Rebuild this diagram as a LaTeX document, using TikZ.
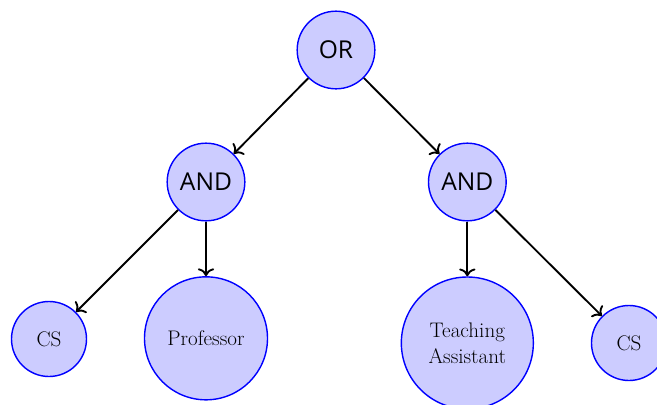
\documentclass[tikz,border=0pt]{standalone}
\usepackage{fontspec}
\newfontfamily\gatefont{Open Sans}
\usetikzlibrary{arrows, arrows.meta, positioning}
\tikzstyle{arrow} = [line width=1.6pt,->,>={To[scale=1.3]}]
\tikzstyle{gate} = [circle, draw=blue, fill=blue!20, line width=1.2pt, inner sep=0pt, minimum size=2.33cm, font=\gatefont\fontsize{21}{24}\selectfont]
\tikzstyle{leaf} = [circle, draw=blue, fill=blue!20, line width=1.2pt, inner sep=0pt, align=center, font=\fontsize{18}{22.5}\selectfont]

\begin{document}
\begin{tikzpicture}
\useasboundingbox (0,0) rectangle (19.71,-12.15);
% Placement of nodes
\node (or) [gate] at (10.08,-1.5) {OR};
\node (andL) [gate] at (6.18,-5.46) {AND};
\node (andR) [gate] at (14.02,-5.46) {AND};
\node (csL) [leaf, minimum size=2.25cm] at (1.47,-10.17) {CS};
\node (prof) [leaf, minimum size=3.69cm] at (6.18,-10.15) {Professor};
\node (ta) [leaf, minimum size=3.96cm] at (14.02,-10.29) {Teaching\\Assistant};
\node (csR) [leaf, minimum size=2.25cm] at (18.87,-10.29) {CS};

% Placement of edges
\draw [arrow] (or) -- (andL);
\draw [arrow] (or) -- (andR);
\draw [arrow] (andL) -- (csL);
\draw [arrow] (andL) -- (prof);
\draw [arrow] (andR) -- (ta);
\draw [arrow] (andR) -- (csR);
\end{tikzpicture}
\end{document}
